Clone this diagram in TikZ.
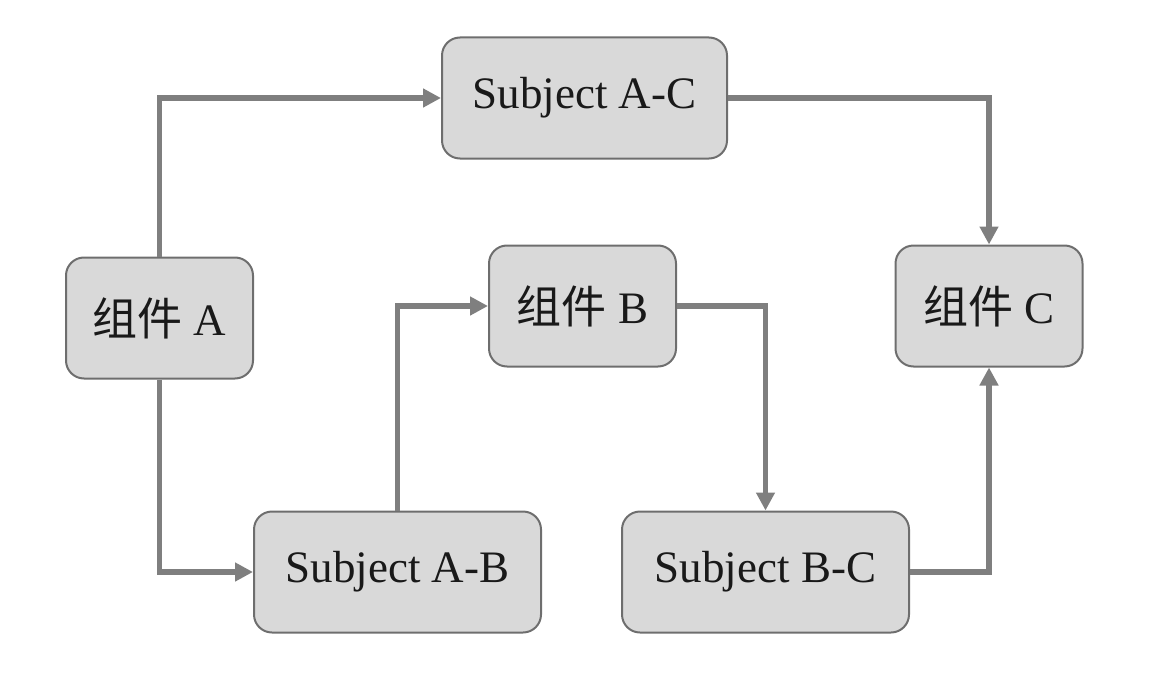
\documentclass[tikz,border=0pt]{standalone}
\usepackage{fontspec}
\setmainfont{Liberation Serif}
\newfontfamily\cjk{Noto Sans CJK SC}
\usetikzlibrary{arrows.meta}
\definecolor{boxfill}{HTML}{D9D9D9}
\definecolor{boxline}{HTML}{6E6E6E}
\definecolor{arrowcol}{HTML}{7F7F7F}
\begin{document}
\begin{tikzpicture}[x=0.5pt,y=-0.5pt,
  box/.style={draw=boxline, fill=boxfill, line width=1pt, rounded corners=9pt,
    minimum width=#1*0.5pt, minimum height=121*0.5pt, inner sep=0pt,
    font=\fontsize{22.5pt}{26pt}\selectfont, text=black!90},
  box/.default=187,
  conn/.style={draw=arrowcol, line width=2.7pt,
    -{Triangle[length=9pt,width=9pt]}}]
\useasboundingbox (0,0) rectangle (1150,674);
\node[box=285] (AC) at (584.5,98) {Subject A-C};
\node[box] (A) at (159.5,318) {{\cjk 组件} A};
\node[box] (B) at (582.5,306) {{\cjk 组件} B};
\node[box] (C) at (989,306) {{\cjk 组件} C};
\node[box=287] (AB) at (397.5,572) {Subject A-B};
\node[box=287] (BC) at (765.5,572) {Subject B-C};
\draw[conn] (A.north) |- (AC.west);
\draw[conn] (AC.east) -| (C.north);
\draw[conn] (A.south) |- (AB.west);
\draw[conn] (AB.north) |- (B.west);
\draw[conn] (B.east) -| (BC.north);
\draw[conn] (BC.east) -| (C.south);
\end{tikzpicture}
\end{document}
